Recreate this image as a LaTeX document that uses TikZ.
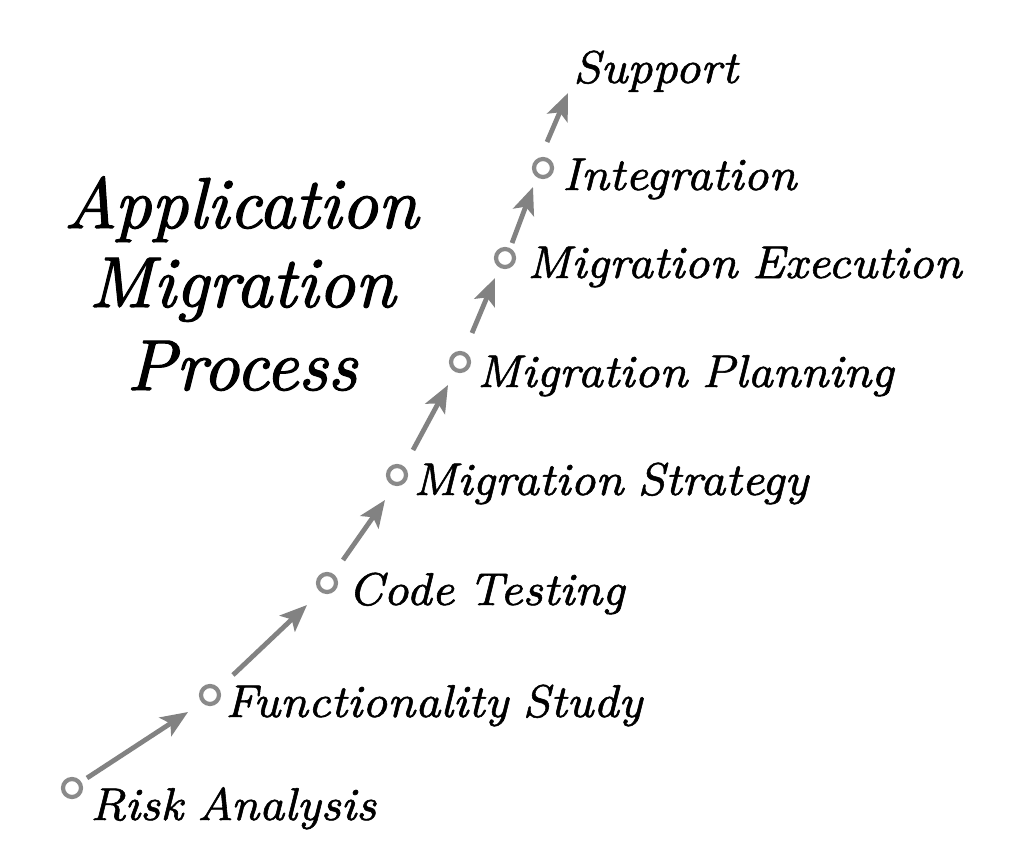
\documentclass[tikz,border=0pt]{standalone}
\usepackage{fontspec}
\newfontfamily\titlefont{lmroman10-italic}[Extension=.otf, FakeBold=1.6]
\newfontfamily\stepfont{lmroman8-italic}[Extension=.otf, FakeBold=1.2, WordSpace=0.8]
\usetikzlibrary{arrows.meta}
\definecolor{ringgray}{HTML}{8A8A8A}
\definecolor{arrgray}{HTML}{828282}
\tikzset{
  ring/.style={circle, draw=ringgray, line width=4.2pt, minimum size=18pt, inner sep=0pt},
  steplabel/.style={anchor=base west, inner sep=0pt, font=\fontsize{46}{52}\selectfont\stepfont},
  titleline/.style={anchor=base, inner sep=0pt, font=\fontsize{72}{80}\selectfont\titlefont},
  flow/.style={draw=arrgray, line width=4.8pt, -{Stealth[length=27pt, width=22pt, inset=6pt]}},
}
\begin{document}
\begin{tikzpicture}[x=1pt, y=-1pt]
\useasboundingbox[fill=white] (0,0) rectangle (1024,867);
% title
\node[titleline] (t1) at (241,228) {Application};
\node[titleline] (t2) at (242,307) {Migration};
\node[titleline] (t3) at (242,390) {Process};
% circles
\node[ring] (c1) at (72,788) {};
\node[ring] (c2) at (210,695) {};
\node[ring] (c3) at (327,583) {};
\node[ring] (c4) at (397,475) {};
\node[ring] (c5) at (460,362) {};
\node[ring] (c6) at (505,258) {};
\node[ring] (c7) at (543,168) {};
% labels
\node[steplabel] (l1) at (90,820) {Risk Analysis};
\node[steplabel] (l2) at (225,717) {Functionality Study};
\node[steplabel] (l3) at (348,605) {Code Testing};
\node[steplabel] (l4) at (413,495) {Migration Strategy};
\node[steplabel] (l5) at (477,387) {Migration Planning};
\node[steplabel] (l6) at (527,278) {Migration Execution};
\node[steplabel] (l7) at (562,190) {Integration};
\node[steplabel] (l8) at (573,83) {Support};
% arrow end points
\coordinate (a1s) at (87,778);  \coordinate (a1e) at (188,712);
\coordinate (a2s) at (233,675); \coordinate (a2e) at (307,605);
\coordinate (a3s) at (343,560); \coordinate (a3e) at (385,500);
\coordinate (a4s) at (413,450); \coordinate (a4e) at (448,385);
\coordinate (a5s) at (472,333); \coordinate (a5e) at (495,278);
\coordinate (a6s) at (512,243); \coordinate (a6e) at (533,187);
\coordinate (a7s) at (547,142); \coordinate (a7e) at (568,93);
\foreach \i in {1,...,7} {\draw[flow] (a\i s) -- (a\i e);}
\end{tikzpicture}
\end{document}
